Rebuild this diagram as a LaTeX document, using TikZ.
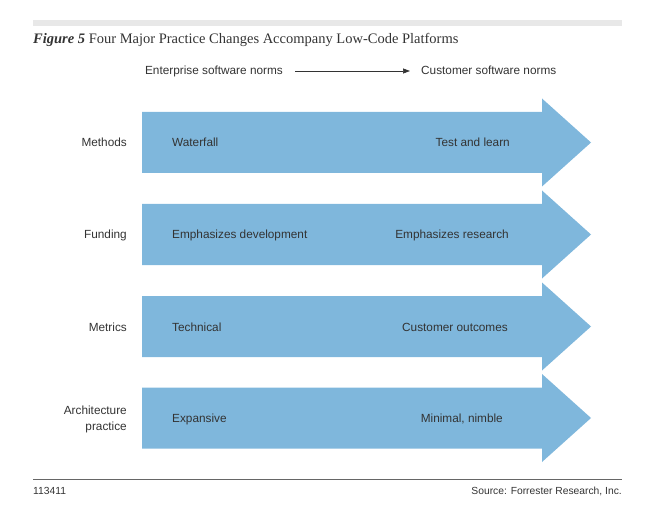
\documentclass[tikz,border=0pt]{standalone}
\usepackage{fontspec}
\setmainfont{Liberation Sans}
\newfontfamily\titlefont{Liberation Serif}
\usetikzlibrary{arrows.meta}
\definecolor{arrowblue}{HTML}{7FB7DC}
\definecolor{txt}{HTML}{333333}
\definecolor{barGray}{HTML}{E8E8E8}
\definecolor{ruleGray}{HTML}{666666}
\tikzset{
  lbl/.style={font=\fontsize{11.8bp}{16bp}\selectfont, text=txt, inner sep=0pt},
  rowlbl/.style={lbl, anchor=base east, align=right},
  leftin/.style={lbl, anchor=base west},
  rightin/.style={lbl, anchor=base east},
  foot/.style={font=\fontsize{10.3bp}{12bp}\selectfont, text=txt, inner sep=0pt},
}
\newcommand{\bigarrow}[2]{%
  \fill[arrowblue] (142,#1-30.5) -- (542,#1-30.5) -- (542,#1-44) -- (591,#1)
    -- (542,#1+44) -- (542,#1+30.5) -- (142,#1+30.5) -- cycle;
  \coordinate (#2) at (142,#1);}
\begin{document}
\begin{tikzpicture}[x=1bp,y=-1bp]
\useasboundingbox (0,0) rectangle (669,523);
\fill[barGray] (33,20) rectangle (622,26);
\node[anchor=base west, inner sep=0pt, font=\titlefont\fontsize{14.5bp}{16bp}\selectfont, text=txt] (title) at (33,44)
  {\textbf{\textit{Figure 5}} Four Major Practice Changes Accompany Low-Code Platforms};
\node[lbl, anchor=base east] (ent) at (283,75) {Enterprise software norms};
\node[lbl, anchor=base west] (cus) at (421,75) {Customer software norms};
\draw[txt, line width=0.7bp, -{Triangle[length=7bp,width=5bp]}] (295,71) coordinate (as) -- (410,71) coordinate (ae);
\bigarrow{142.5}{a1}
\bigarrow{234.5}{a2}
\bigarrow{326.5}{a3}
\bigarrow{418}{a4}
\node[rowlbl] (l1) at (127,147) {Methods};
\node[rowlbl] (l2) at (127,239) {Funding};
\node[rowlbl] (l3) at (127,331) {Metrics};
\node[rowlbl] (l4) at (127,430.5) {Architecture\\practice};
\node[leftin] (w1) at (172,147) {Waterfall};
\node[leftin] (w2) at (172,239) {Emphasizes development};
\node[leftin] (w3) at (172,331) {Technical};
\node[leftin] (w4) at (172,422.5) {Expansive};
\node[rightin] (r1) at (510,147) {Test and learn};
\node[rightin] (r2) at (509,239) {Emphasizes research};
\node[rightin] (r3) at (508,331) {Customer outcomes};
\node[rightin] (r4) at (503,422.5) {Minimal, nimble};
\draw[ruleGray, line width=1bp] (33,479) -- (622,479);
\node[foot, anchor=west] (id) at (33,491) {113411};
\node[foot, anchor=east] (src) at (622,491) {Source: Forrester Research, Inc.};
\end{tikzpicture}
\end{document}
